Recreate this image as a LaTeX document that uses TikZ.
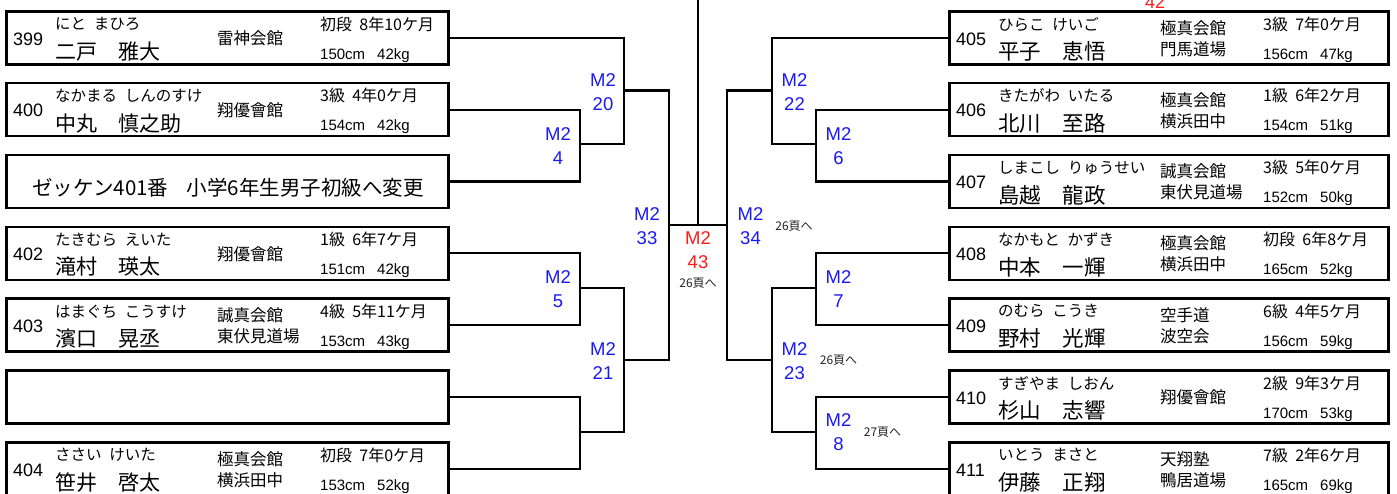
\documentclass[tikz,border=0pt]{standalone}
\usepackage{fontspec}
\setmainfont{Liberation Sans}
\newfontfamily\jp{Noto Sans CJK JP}
\definecolor{mblue}{RGB}{25,25,245}
\definecolor{mred}{RGB}{255,25,25}
\definecolor{notegray}{RGB}{35,35,35}
\newcommand\rgap{\hspace{0.45em}}
\newcommand\cgap{\hspace{0.8em}}
\newcommand\kgap{\hspace{0.5em}}
\def\bw{442}
\def\ksz{15.5}
\def\nsz{21}
\newcommand\player[9]{%
  \node[pbox, minimum width=\bw pt, anchor=north west] (#1) at (#2,#3) {};
  \node[numt] (#1n) at (#2+8,#3+35) {#4};
  \node[kana] (#1k) at (#2+50,#3+14) {#5};
  \node[kanji] (#1m) at (#2+50,#3+41.5) {#6};
  \node[club] (#1c) at (#2+212,#3+28.5) {#7};
  \node[rank] (#1r) at (#2+315,#3+14) {#8};
  \node[body] (#1w) at (#2+315,#3+49) {#9};
}
\begin{document}
\begin{tikzpicture}[x=1pt,y=-1pt,
  pbox/.style={draw, line width=2.6pt, minimum height=53pt, inner sep=0},
  conn/.style={line width=2.2pt},
  numt/.style={anchor=base west, inner sep=0, font=\fontsize{18}{18}\selectfont},
  kana/.style={anchor=west, inner sep=0, font=\jp\fontsize{\ksz}{\ksz}\selectfont},
  kanji/.style={anchor=west, inner sep=0, font=\jp\fontsize{\nsz}{\nsz}\selectfont},
  club/.style={anchor=west, inner sep=0, align=left, font=\jp\fontsize{16.5}{21}\selectfont},
  rank/.style={anchor=west, inner sep=0, font=\jp\fontsize{16}{16}\selectfont},
  body/.style={anchor=base west, inner sep=0, font=\fontsize{15}{15}\selectfont},
  mlbl/.style={align=center, inner sep=0, text=mblue, font=\fontsize{18.5}{24}\selectfont},
  rlbl/.style={align=center, inner sep=0, text=mred, font=\fontsize{18.5}{24}\selectfont},
  note/.style={inner sep=0, text=notegray, font=\jp\fontsize{12}{12}\selectfont},
  zk/.style={inner sep=0, font=\jp\fontsize{20.5}{20.5}\selectfont}]
\useasboundingbox (0,0) rectangle (1397,493);
\clip (0,0) rectangle (1397,493);

% left side
\player{L0}{5}{10}{399}{にと\kgap まひろ}{二戸　雅大}{雷神会館}{初段\rgap 8年10ケ月}{150cm\cgap 42kg}
\player{L1}{5}{81.8}{400}{なかまる\kgap しんのすけ}{中丸　慎之助}{翔優會館}{3級\rgap 4年0ケ月}{154cm\cgap 42kg}
\node[pbox, minimum width=442pt, anchor=north west] (L2) at (5,153.7) {};
\node[zk] (L2t) at (228,188) {ゼッケン401番\hspace{0.9em}小学6年生男子初級へ変更};
\player{L3}{5}{225.5}{402}{たきむら\kgap えいた}{滝村　瑛太}{翔優會館}{1級\rgap 6年7ケ月}{151cm\cgap 42kg}
\player{L4}{5}{297.3}{403}{はまぐち\kgap こうすけ}{濱口　晃丞}{誠真会館\\東伏見道場}{4級\rgap 5年11ケ月}{153cm\cgap 43kg}
\node[pbox, minimum width=442pt, anchor=north west] (L5) at (5,369.2) {};
\player{L6}{5}{441}{404}{ささい\kgap けいた}{笹井　啓太}{極真会館\\横浜田中}{初段\rgap 7年0ケ月}{153cm\cgap 52kg}

% right side
\def\bw{439}
\def\nsz{21.5}
\player{R0}{948}{10}{405}{ひらこ\kgap けいご}{平子　恵悟}{極真会館\\門馬道場}{3級\rgap 7年0ケ月}{156cm\cgap 47kg}
\player{R1}{948}{81.8}{406}{きたがわ\kgap いたる}{北川　至路}{極真会館\\横浜田中}{1級\rgap 6年2ケ月}{154cm\cgap 51kg}
\player{R2}{948}{153.7}{407}{しまこし\kgap りゅうせい}{島越　龍政}{誠真会館\\東伏見道場}{3級\rgap 5年0ケ月}{152cm\cgap 50kg}
\player{R3}{948}{225.5}{408}{なかもと\kgap かずき}{中本　一輝}{極真会館\\横浜田中}{初段\rgap 6年8ケ月}{165cm\cgap 52kg}
\player{R4}{948}{297.3}{409}{のむら\kgap こうき}{野村　光輝}{空手道\\波空会}{6級\rgap 4年5ケ月}{156cm\cgap 59kg}
\player{R5}{948}{369.2}{410}{すぎやま\kgap しおん}{杉山　志響}{翔優會館}{2級\rgap 9年3ケ月}{170cm\cgap 53kg}
\player{R6}{948}{441}{411}{いとう\kgap まさと}{伊藤　正翔}{天翔塾\\鴨居道場}{7級\rgap 2年6ケ月}{165cm\cgap 69kg}

% junctions
\coordinate (m4) at (580,144.25);
\coordinate (m20) at (624,90.4);
\coordinate (m5) at (580,287.9);
\coordinate (mE) at (580,431.6);
\coordinate (m21) at (624,359.75);
\coordinate (m33) at (669,225.1);
\coordinate (m43) at (698,225.1);
\coordinate (top43) at (698,-5);
\coordinate (m34) at (727,225.1);
\coordinate (m22) at (772,90.4);
\coordinate (m6) at (816,144.25);
\coordinate (m7) at (816,287.9);
\coordinate (m8) at (816,431.6);
\coordinate (m23) at (772,359.75);

% connectors left
\draw[conn] (L1.east) -| (m4) |- (L2.east);
\draw[conn] (L0.east) -| (m20) |- (m4);
\draw[conn] (L3.east) -| (m5) |- (L4.east);
\draw[conn] (L5.east) -| (mE) |- (L6.east);
\draw[conn] (m5) -| (m21) |- (mE);
\draw[conn] (m20) -| (m33) |- (m21);
% connectors right
\draw[conn] (R1.west) -| (m6) |- (R2.west);
\draw[conn] (R0.west) -| (m22) |- (m6);
\draw[conn] (R3.west) -| (m7) |- (R4.west);
\draw[conn] (R5.west) -| (m8) |- (R6.west);
\draw[conn] (m7) -| (m23) |- (m8);
\draw[conn] (m22) -| (m34) |- (m23);
% final
\draw[conn] (m33) -- (m34);
\draw[conn] (m43) -- (top43);

% labels
\node[mlbl] (t20) at (603,92) {M2\\20};
\node[mlbl] (t4) at (558,146) {M2\\4};
\node[mlbl] (t33) at (647,226.5) {M2\\33};
\node[mlbl] (t5) at (558,289) {M2\\5};
\node[mlbl] (t21) at (603,361) {M2\\21};
\node[rlbl] (t43) at (698,250) {M2\\43};
\node[note] (n43) at (698,283) {26頁へ};
\node[mlbl] (t34) at (750.5,226.5) {M2\\34};
\node[note] (n34) at (794,226) {26頁へ};
\node[mlbl] (t22) at (794.5,92) {M2\\22};
\node[mlbl] (t6) at (838.5,146) {M2\\6};
\node[mlbl] (t7) at (838.5,289) {M2\\7};
\node[mlbl] (t23) at (794.5,361) {M2\\23};
\node[note] (n23) at (838.5,360.5) {26頁へ};
\node[mlbl] (t8) at (838.5,432) {M2\\8};
\node[note] (n8) at (882.5,432) {27頁へ};
\node[anchor=base, inner sep=0, text=mred, font=\fontsize{18}{18}\selectfont] (t42) at (1155,8) {42};
\end{tikzpicture}
\end{document}
